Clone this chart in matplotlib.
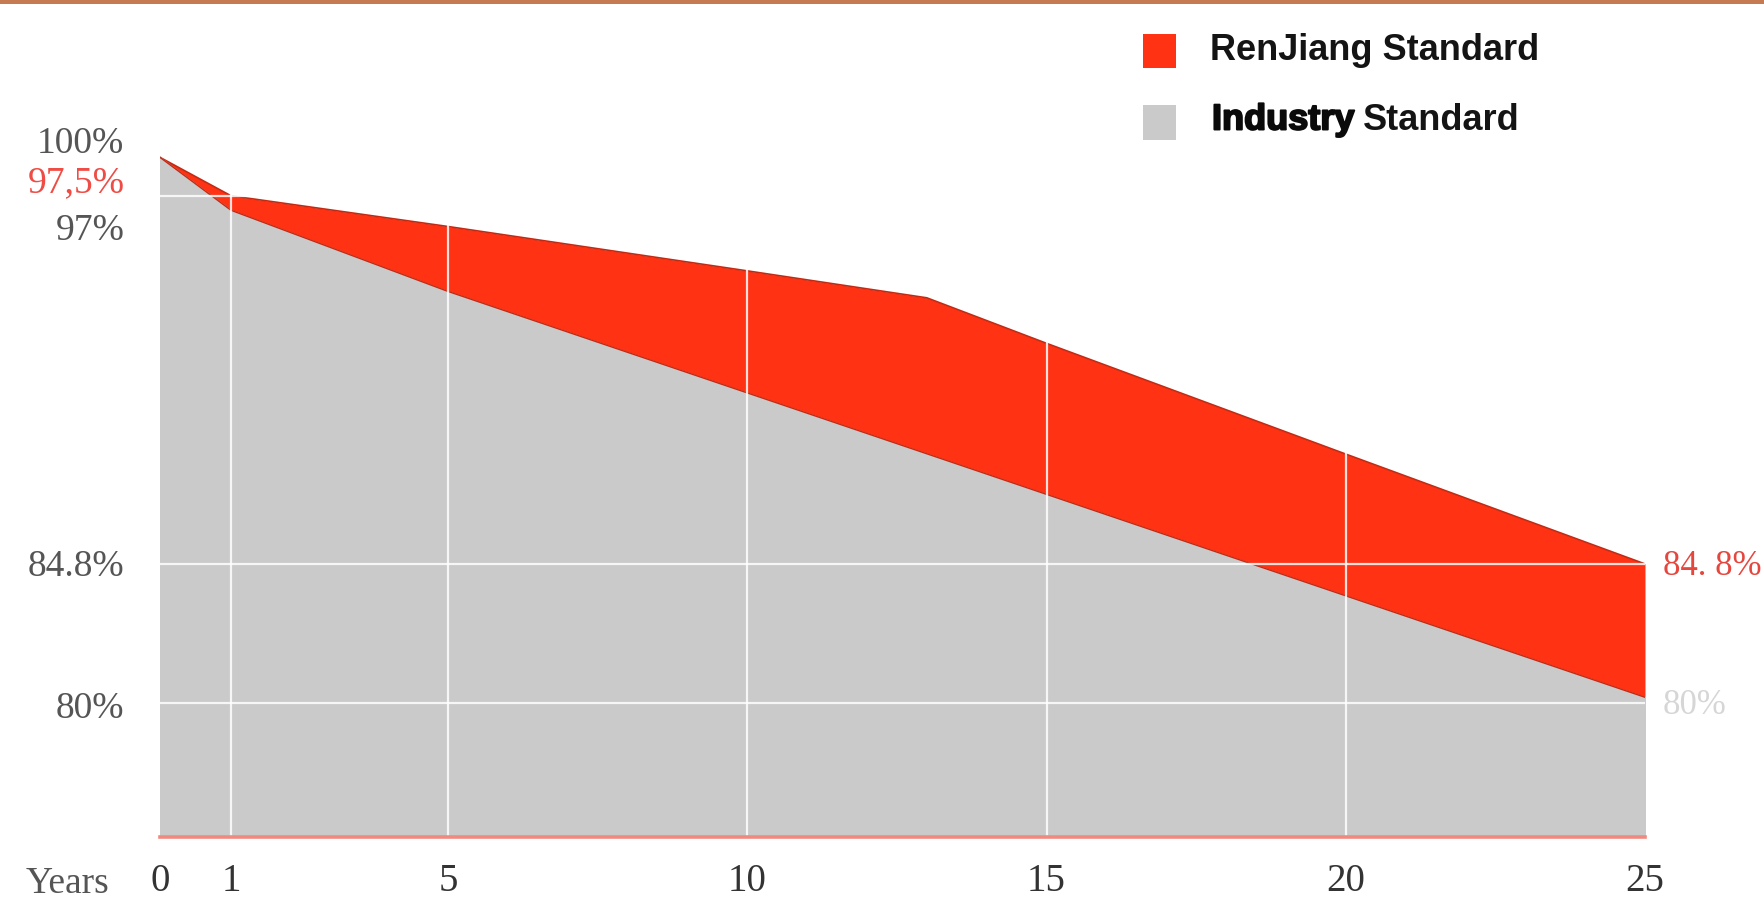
import numpy as np
import matplotlib
matplotlib.use('Agg')
import matplotlib.pyplot as plt
from matplotlib import transforms
from matplotlib.patches import Rectangle
from matplotlib import patheffects

# data
years = [0, 1, 5, 10, 13, 15, 20, 25]
renjiang = [100, 97.5, 96.44, 94.91, 93.98, 92.41, 88.59, 84.8]
industry_years = [0, 1, 5, 10, 15, 20, 25]
industry = [100, 97, 94.2, 90.7, 87.2, 83.7, 80.2]

xtick_years = [0, 1, 5, 10, 15, 20, 25]
grid_years = [1, 5, 10, 15, 20]
grid_levels = [97.5, 84.8, 80]

left_labels = ['100%', '97,5%', '97%', '84.8%', '80%']
left_values = [100, 97.5, 97, 84.8, 80]
right_labels = ['84. 8%', '80%']
right_values = [84.8, 80]
legend_names = ['RenJiang', 'Industry']

RED = '#ff3213'
GRAY = '#c9cac9'
SERIF = ['Liberation Serif', 'DejaVu Serif']
NARROW = ['Liberation Sans Narrow', 'Liberation Sans', 'DejaVu Sans']

# the picture stretches year 0-1 and squeezes 97.5-100 %
X_SRC = [0, 1, 5, 25]
X_DST = [0, 71, 288, 1485]
Y_KNEE, Y_SQUEEZE = 97.5, 0.53


def piecewise(v, src, dst):
    v = np.asarray(v, dtype=float)
    out = np.interp(v, src, dst)
    lo_slope = (dst[1] - dst[0]) / (src[1] - src[0])
    hi_slope = (dst[-1] - dst[-2]) / (src[-1] - src[-2])
    out = np.where(v < src[0], dst[0] + (v - src[0]) * lo_slope, out)
    out = np.where(v > src[-1], dst[-1] + (v - src[-1]) * hi_slope, out)
    return out


def y_fwd(v):
    v = np.asarray(v, dtype=float)
    return np.where(v > Y_KNEE, Y_KNEE + (v - Y_KNEE) * Y_SQUEEZE, v)


def y_inv(v):
    v = np.asarray(v, dtype=float)
    return np.where(v > Y_KNEE, Y_KNEE + (v - Y_KNEE) / Y_SQUEEZE, v)


fig = plt.figure(figsize=(17.65, 9.06), dpi=100)
ax = fig.add_axes([160 / 1765, 69 / 906, 1485 / 1765, 695 / 906])
ax.set_xscale('function', functions=(lambda v: piecewise(v, X_SRC, X_DST),
                                     lambda v: piecewise(v, X_DST, X_SRC)))
ax.set_yscale('function', functions=(y_fwd, y_inv))
ax.set_xlim(0, 25)
ax.set_ylim(75.38, 101)
base = ax.get_ylim()[0]

ax.fill_between(years, base, renjiang, color=RED, lw=0, zorder=1)
ax.plot(years, renjiang, color='#c22a14', lw=1.2, zorder=2)
ax.fill_between(industry_years, base, industry, facecolor=GRAY, edgecolor=GRAY,
                lw=1.0, zorder=3)
ax.plot(industry_years, industry, color='#c22a14', lw=1.0, zorder=3)

for g in grid_years:
    ax.axvline(g, color='white', lw=1.6, alpha=0.85, zorder=4)
for g in grid_levels:
    ax.axhline(g, color='white', lw=1.6, alpha=0.85, zorder=4)

for s in ['top', 'right', 'left']:
    ax.spines[s].set_visible(False)
ax.spines['bottom'].set_color('#f08a80')
ax.spines['bottom'].set_linewidth(2.6)
ax.spines['bottom'].set_zorder(5)

ax.set_yticks([])
ax.set_xticks(xtick_years)
ax.set_xticklabels([str(y) for y in xtick_years], family=SERIF, fontsize=28, color='#333333')
ax.tick_params(axis='x', length=0, pad=19)

# left value labels, nudged off their levels like in the picture
left_shift = [10, 9, -15, -2, -4]
left_color = ['#555555', '#ee4c44', '#555555', '#555555', '#555555']
blend = transforms.blended_transform_factory(ax.transAxes, ax.transData)
for lab, val, dy, col in zip(left_labels, left_values, left_shift, left_color):
    tr = transforms.offset_copy(blend, fig=fig, y=dy, units='points')
    ax.text(-0.024, val, lab, transform=tr, ha='right', va='center',
            family=SERIF, fontsize=27, color=col)

right_color = ['#e5473f', '#d6d6d6']
for lab, val, col in zip(right_labels, right_values, right_color):
    tr = transforms.offset_copy(blend, fig=fig, y=-1.5, units='points')
    ax.text(1.012, val, lab, transform=tr, ha='left', va='center',
            family=SERIF, fontsize=25, color=col)

fig.text(68 / 1765, 1 - 884 / 906, 'Years', ha='center', va='center',
         family=SERIF, fontsize=27, color='#555555')

# orange rule across the top
fig.add_artist(Rectangle((0, 1 - 4 / 906), 1, 4 / 906, transform=fig.transFigure,
                         color='#c67a52', lw=0))

# legend drawn by hand
fig.add_artist(Rectangle((1143 / 1765, 1 - 68 / 906), 33 / 1765, 34 / 906,
                         transform=fig.transFigure, color=RED, lw=0))
fig.add_artist(Rectangle((1143 / 1765, 1 - 140 / 906), 33 / 1765, 35 / 906,
                         transform=fig.transFigure, color=GRAY, lw=0))
fig.text(1210 / 1765, 1 - 51 / 906, legend_names[0] + ' Standard', ha='left', va='center',
         family=NARROW, fontsize=26, fontweight='bold', color='#141414')
ind = fig.text(1212 / 1765, 1 - 120 / 906, legend_names[1], ha='left', va='center',
               family=NARROW, fontsize=26, fontweight='bold', color='#0a0a0a',
               path_effects=[patheffects.withStroke(linewidth=1.4, foreground='#0a0a0a')])
ax.annotate('Standard', xy=(1, 0.5), xycoords=ind, xytext=(6, 0), textcoords='offset points',
            ha='left', va='center', family=NARROW, fontsize=26, fontweight='bold',
            color='#141414', annotation_clip=False)

fig.savefig('out.png', dpi=100)
